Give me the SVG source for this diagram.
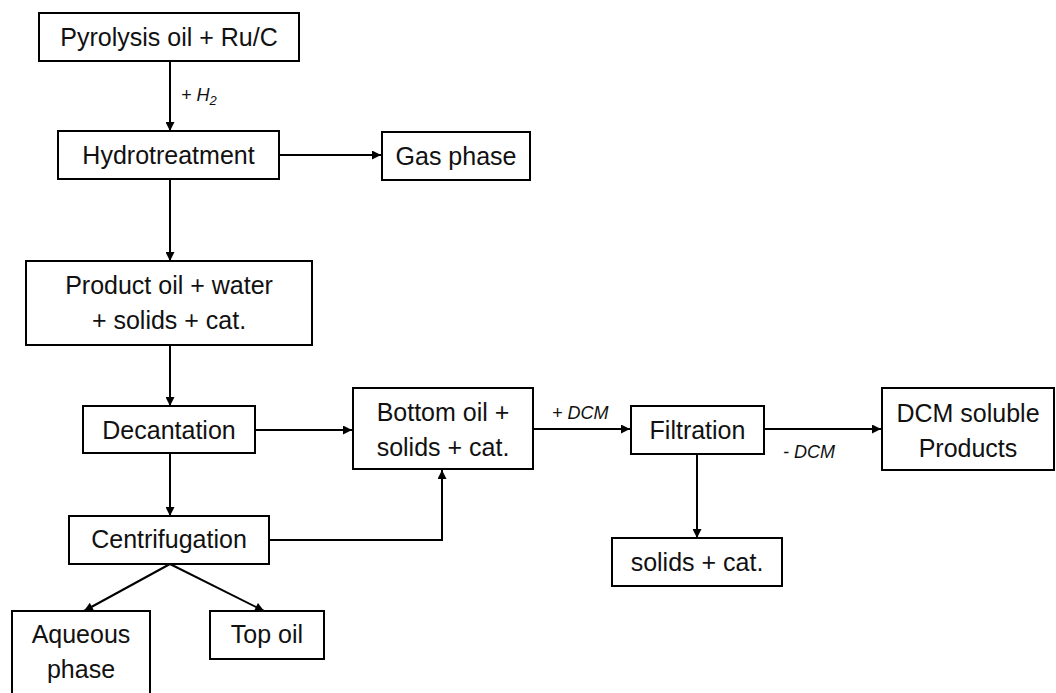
<svg xmlns="http://www.w3.org/2000/svg" width="1056" height="693" viewBox="0 0 1056 693">
<style>
.box{fill:#fff;stroke:#000;stroke-width:2}
.t{font-family:"Liberation Sans",Arial,sans-serif;font-size:25px;fill:#111;text-anchor:middle}
.lbl{font-family:"Liberation Sans",Arial,sans-serif;font-size:18px;font-style:italic;fill:#111}
.c{fill:none;stroke:#000;stroke-width:2}
</style>
<defs>
<marker id="ah" viewBox="0 0 10 10" refX="10" refY="5" markerWidth="10" markerHeight="9" markerUnits="userSpaceOnUse" orient="auto">
<path d="M0,0 L10,5 L0,10 z" fill="#000"/>
</marker>
</defs>
<rect width="1056" height="693" fill="#fff"/>
<g id="connectors">
<line class="c" x1="170" y1="61" x2="170" y2="131" marker-end="url(#ah)"/>
<line class="c" x1="279" y1="155" x2="381" y2="155" marker-end="url(#ah)"/>
<line class="c" x1="170" y1="179" x2="170" y2="261" marker-end="url(#ah)"/>
<line class="c" x1="170" y1="345" x2="170" y2="406" marker-end="url(#ah)"/>
<line class="c" x1="255" y1="430" x2="352" y2="430" marker-end="url(#ah)"/>
<line class="c" x1="170" y1="453" x2="170" y2="516" marker-end="url(#ah)"/>
<polyline class="c" points="269,540 442,540 442,470" marker-end="url(#ah)"/>
<line class="c" x1="170" y1="564" x2="84" y2="611" marker-end="url(#ah)"/>
<line class="c" x1="170" y1="564" x2="264" y2="611" marker-end="url(#ah)"/>
<line class="c" x1="533" y1="429" x2="630" y2="429" marker-end="url(#ah)"/>
<line class="c" x1="764" y1="429" x2="881" y2="429" marker-end="url(#ah)"/>
<line class="c" x1="697" y1="454" x2="697" y2="538" marker-end="url(#ah)"/>
<text class="lbl" x="181" y="101">+ H<tspan font-size="13" dy="4">2</tspan></text>
<text class="lbl" x="552" y="419">+ DCM</text>
<text class="lbl" x="783" y="458">- DCM</text>
</g>
<g id="pyrolysis"><rect class="box" x="39" y="13" width="260" height="48"/><text class="t" x="169" y="46">Pyrolysis oil + Ru/C</text></g>
<g id="hydrotreatment"><rect class="box" x="58" y="131" width="221" height="48"/><text class="t" x="168.5" y="164">Hydrotreatment</text></g>
<g id="gas"><rect class="box" x="382" y="132" width="148" height="48"/><text class="t" x="456" y="165">Gas phase</text></g>
<g id="product"><rect class="box" x="26" y="261" width="286" height="84"/><text class="t" x="169" y="294">Product oil + water</text><text class="t" x="169" y="329">+ solids + cat.</text></g>
<g id="decantation"><rect class="box" x="83" y="406" width="172" height="47"/><text class="t" x="169" y="439">Decantation</text></g>
<g id="bottom"><rect class="box" x="353" y="388" width="180" height="81"/><text class="t" x="443" y="421">Bottom oil +</text><text class="t" x="443" y="456">solids + cat.</text></g>
<g id="filtration"><rect class="box" x="631" y="406" width="133" height="48"/><text class="t" x="697.5" y="439">Filtration</text></g>
<g id="dcm"><rect class="box" x="882" y="388" width="172" height="82"/><text class="t" x="968" y="422">DCM soluble</text><text class="t" x="968" y="457">Products</text></g>
<g id="solids"><rect class="box" x="612" y="538" width="170" height="48"/><text class="t" x="697" y="571">solids + cat.</text></g>
<g id="centrifugation"><rect class="box" x="69" y="516" width="200" height="48"/><text class="t" x="169" y="548">Centrifugation</text></g>
<g id="aqueous"><rect class="box" x="12" y="611" width="138" height="90"/><text class="t" x="81" y="643">Aqueous</text><text class="t" x="81" y="678">phase</text></g>
<g id="topoil"><rect class="box" x="210" y="611" width="114" height="48"/><text class="t" x="267" y="643">Top oil</text></g>
</svg>
